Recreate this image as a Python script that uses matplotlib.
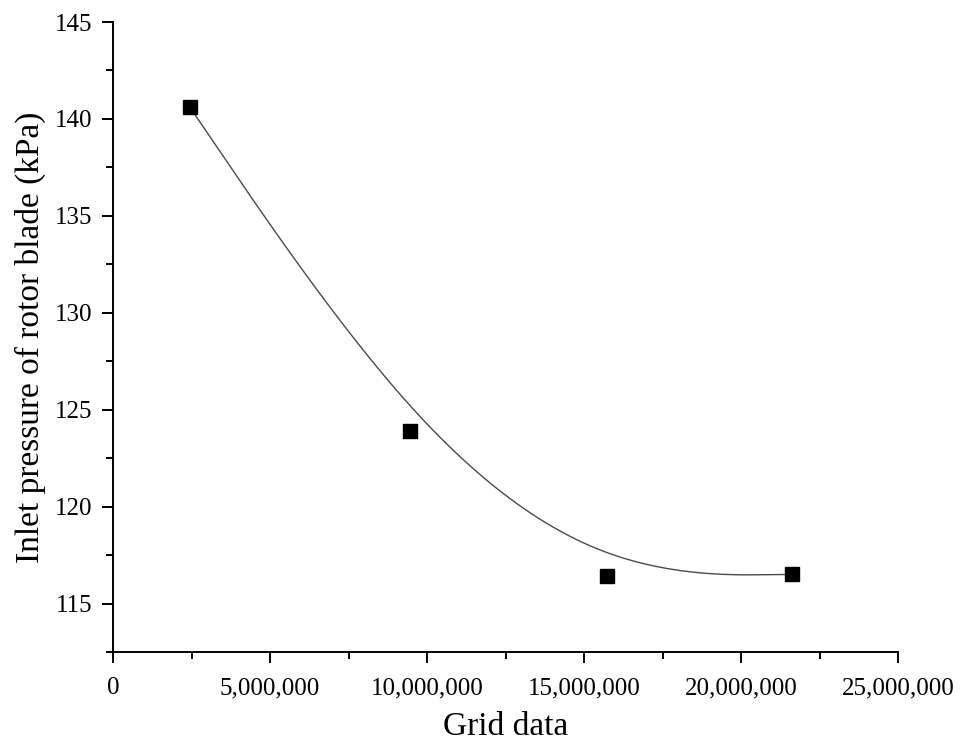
import numpy as np
import matplotlib
matplotlib.use("Agg")
import matplotlib.pyplot as plt
from matplotlib.ticker import MultipleLocator, FuncFormatter

plt.rcParams['font.family'] = ['Liberation Serif', 'DejaVu Serif']

grid_cells = [2450000, 9460000, 15730000, 21620000]
inlet_pressure = [140.6, 123.9, 116.4, 116.5]

# uniform cubic B-spline through the points as controls (end points tripled)
pts = np.column_stack([grid_cells, inlet_pressure]).astype(float)
ctrl = np.vstack([pts[0], pts[0], pts, pts[-1], pts[-1]])
M = np.array([[-1, 3, -3, 1], [3, -6, 3, 0], [-3, 0, 3, 0], [1, 4, 1, 0]]) / 6.0
s = np.linspace(0, 1, 80)
S = np.column_stack([s ** 3, s ** 2, s, np.ones_like(s)])
curve = np.vstack([S @ M @ ctrl[i:i + 4] for i in range(len(ctrl) - 3)])

fig = plt.figure(figsize=(9.65, 7.44), dpi=100)
ax = fig.add_axes([0.1171, 0.1237, 0.8135, 0.8467])

ax.plot(curve[:, 0], curve[:, 1], color='#4a4a4a', lw=1.0)
ax.plot(grid_cells, inlet_pressure, 's', color='black', markersize=10.5, ls='none')

ax.set_xlim(0, 25000000)
ax.set_ylim(112.5, 145)
ax.xaxis.set_major_locator(MultipleLocator(5000000))
ax.xaxis.set_minor_locator(MultipleLocator(2500000))
ax.yaxis.set_major_locator(MultipleLocator(5))
ax.yaxis.set_minor_locator(MultipleLocator(2.5))
ax.xaxis.set_major_formatter(FuncFormatter(lambda v, p: '{:,.0f}'.format(v)))

for sp in ['top', 'right']:
    ax.spines[sp].set_visible(False)
for sp in ['left', 'bottom']:
    ax.spines[sp].set_linewidth(1.4)
ax.tick_params(which='major', direction='out', length=8, width=1.4, labelsize=18)
ax.tick_params(which='minor', direction='out', length=5, width=1.4)
ax.tick_params(axis='x', pad=10)
ax.tick_params(axis='y', pad=7)

ax.set_xlabel('Grid data', fontsize=24, labelpad=9)
ax.set_ylabel('Inlet pressure of rotor blade (kPa)', fontsize=24, labelpad=6)

fig.savefig('out.png', dpi=100)
